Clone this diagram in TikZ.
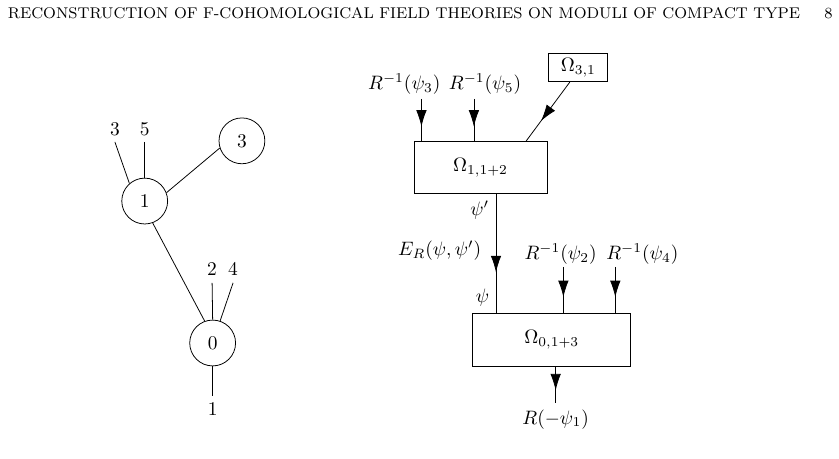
\documentclass[tikz,border=0pt]{standalone}
\usetikzlibrary{arrows.meta,decorations.markings}

\begin{document}
\begin{tikzpicture}[
  vtx/.style={draw, circle, minimum size=0.83cm, inner sep=0pt},
  blk/.style={draw, rectangle, inner sep=0pt},
  ma/.style={postaction={decorate},
    decoration={markings, mark=at position 0.66 with {\arrow{Latex[length=8.5pt,width=5.4pt]}}}}]

  \useasboundingbox (0,0) rectangle (15.19,8.31);

  % running head
  \node[anchor=west] (head) at (0.02,8.07)
    {\footnotesize RECONSTRUCTION OF F-COHOMOLOGICAL FIELD THEORIES ON MODULI OF COMPACT TYPE};
  \node (pg) at (15.0,8.07) {\footnotesize 8};

  % stable graph
  \node[vtx] (n1) at (2.62,4.67) {$1$};
  \node[vtx] (n3) at (4.38,5.76) {$3$};
  \node[vtx] (n0) at (3.85,2.10) {$0$};
  \draw (n1.21) -- (n3.198);
  \draw (n1.290) -- (n0.110);

  % legs
  \node[anchor=south] (l3) at (2.08,5.74) {$3$};
  \node[anchor=south] (l5) at (2.62,5.74) {$5$};
  \node[anchor=south] (l2) at (3.84,3.19) {$2$};
  \node[anchor=south] (l4) at (4.22,3.19) {$4$};
  \node[anchor=north] (l1) at (3.85,1.14) {$1$};
  \draw (l3.south) -- (n1.131);
  \draw (l5.south) -- (n1.north);
  \draw (l2.south) -- (n0.north);
  \draw (l4.south) -- (n0);
  \draw (n0.south) -- (l1.north);

  % boxes
  \node[blk, minimum width=1.07cm, minimum height=0.52cm] (b31) at (10.47,7.09) {$\Omega_{3,1}$};
  \node[blk, minimum width=2.41cm, minimum height=0.94cm] (b112) at (8.70,5.28) {$\Omega_{1,1+2}$};
  \node[blk, minimum width=2.86cm, minimum height=0.96cm] (b013) at (9.99,2.16) {$\Omega_{0,1+3}$};

  % inputs of the upper box
  \node (r3) at (7.32,6.79) {$R^{-1}(\psi_3)$};
  \node (r5) at (8.78,6.79) {$R^{-1}(\psi_5)$};
  \coordinate (t3) at (7.63,6.52);
  \coordinate (t5) at (8.58,6.52);
  \draw[ma] (t3) -- (t3 |- b112.north);
  \draw[ma] (t5) -- (t5 |- b112.north);
  \draw[ma] (b31.240) -- (b112.30);

  % edge between the boxes
  \coordinate (e1) at ([xshift=0.28cm]b112.south);
  \coordinate (e2) at (e1 |- b013.north);
  \draw[ma] (e1) -- (e2);
  \node[anchor=north east] (pp) at (e1) {$\psi'$};
  \node[anchor=south east] (p) at (e2) {$\psi$};
  \node (er) at (7.96,3.77) {$E_R(\psi,\psi')$};

  % inputs of the lower box
  \node (r2) at (10.15,3.71) {$R^{-1}(\psi_2)$};
  \node (r4) at (11.63,3.71) {$R^{-1}(\psi_4)$};
  \coordinate (t2) at (10.20,3.48);
  \coordinate (t4) at (11.14,3.48);
  \draw[ma] (t2) -- (t2 |- b013.north);
  \draw[ma] (t4) -- (t4 |- b013.north);

  % output
  \coordinate (o1) at ([xshift=0.07cm]b013.south);
  \coordinate (o2) at (o1 |- 0,1.02);
  \draw[ma] (o1) -- (o2);
  \node[anchor=north] (out) at (o2) {$R(-\psi_1)$};

\end{tikzpicture}
\end{document}
